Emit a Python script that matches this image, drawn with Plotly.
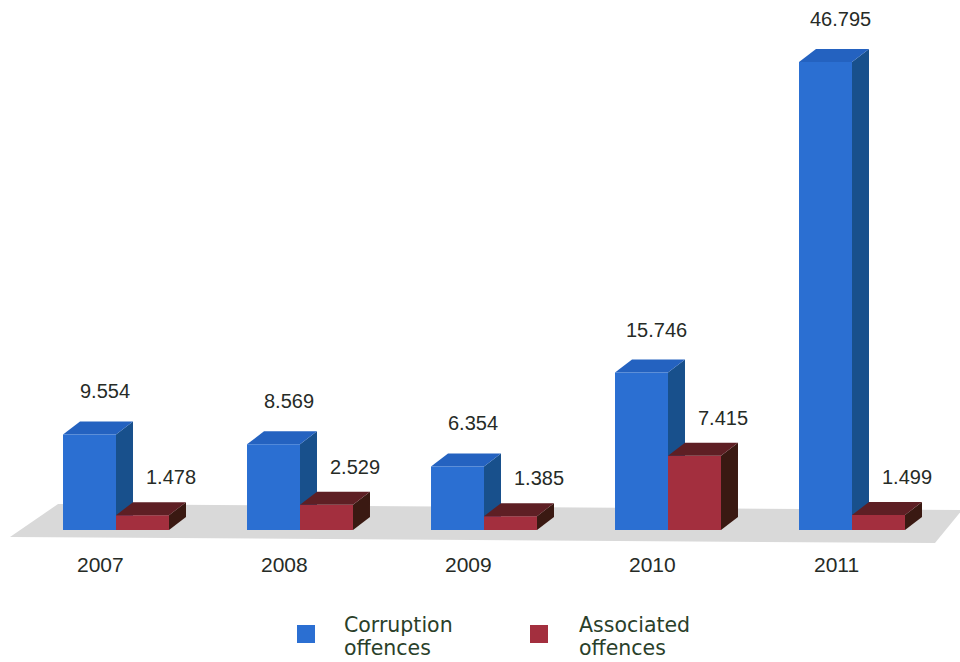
import plotly.graph_objects as go

# Data
years = ["2007", "2008", "2009", "2010", "2011"]
corruption = [9.554, 8.569, 6.354, 15.746, 46.795]
associated = [1.478, 2.529, 1.385, 7.415, 1.499]
series_lines = [("Corruption", "offences"), ("Associated", "offences")]

# Styling / geometry (axis units)
W = 0.288          # front-face width of a bar
DX = 17 / 184      # horizontal depth of the 3D extrusion
DY = 1.3           # vertical depth of the 3D extrusion
BLUE = dict(front="#2b6fd2", top="#2462c0", side="#18508c")
RED = dict(front="#a32f3e", top="#5e1f24", side="#3a1912")
TEXT = "#262b26"
idx = list(range(len(years)))


def fmt(v):
    return f"{v:.3f}"


fig = go.Figure()

fig.add_trace(go.Bar(x=idx, y=corruption, width=W, offset=-W,
                     marker=dict(color=BLUE["front"], line=dict(width=0)),
                     name="Corruption offences", hoverinfo="y"))
fig.add_trace(go.Bar(x=idx, y=associated, width=W, offset=0,
                     marker=dict(color=RED["front"], line=dict(width=0)),
                     name="Associated offences", hoverinfo="y"))

shapes = []


def path(pts):
    return "M " + " L ".join(f"{x},{y}" for x, y in pts) + " Z"


# Floor plane
shapes.append(dict(type="path", xref="x", yref="y", layer="below",
                   path=path([(-0.576, -0.7), (-0.315, 2.6), (4.598, 2.0), (4.451, -1.3)]),
                   fillcolor="#d9d9d9", line=dict(width=0)))


def box_faces(xl, xr, v, colors, layer):
    side = path([(xr, 0), (xr + DX, DY), (xr + DX, v + DY), (xr, v)])
    top = path([(xl, v), (xl + DX, v + DY), (xr + DX, v + DY), (xr, v)])
    return [
        dict(type="path", xref="x", yref="y", layer=layer, path=side,
             fillcolor=colors["side"], line=dict(width=0)),
        dict(type="path", xref="x", yref="y", layer=layer, path=top,
             fillcolor=colors["top"], line=dict(width=0)),
    ]


for i, v in zip(idx, corruption):
    shapes += box_faces(i - W, i, v, BLUE, "below")
for i, v in zip(idx, associated):
    shapes += box_faces(i, i + W, v, RED, "above")

num_font = dict(family="Liberation Sans, Arial", size=20, color=TEXT)
annotations = []
for i, v in zip(idx, corruption):
    annotations.append(dict(x=i - W / 2, y=v, text=fmt(v), showarrow=False,
                            xshift=15, yshift=43, yanchor="middle", font=num_font))
for i, v in zip(idx, associated):
    annotations.append(dict(x=i + W / 2, y=v, text=fmt(v), showarrow=False,
                            xshift=28, yshift=38, yanchor="middle", font=num_font))
for i, yr in zip(idx, years):
    annotations.append(dict(x=i, y=0, text=yr, showarrow=False,
                            xshift=-16, yshift=-34, yanchor="middle",
                            font=dict(family="Liberation Sans, Arial", size=21, color=TEXT)))

# Legend
legend_items = [(297, 343, BLUE["front"], series_lines[0]),
                (530, 578, RED["front"], series_lines[1])]
leg_font = dict(family="DejaVu Sans", size=20.5, color="#2a3f2a")
for sq_x, tx_x, col, (line1, line2) in legend_items:
    shapes.append(dict(type="rect", xref="paper", yref="paper",
                       x0=sq_x / 960, x1=(sq_x + 18) / 960,
                       y0=1 - 643 / 662, y1=1 - 625 / 662,
                       fillcolor=col, line=dict(width=0)))
    annotations.append(dict(xref="paper", yref="paper", x=tx_x / 960, y=1 - 625 / 662,
                            xanchor="left", yanchor="middle", text=line1, borderpad=0,
                            showarrow=False, font=leg_font))
    annotations.append(dict(xref="paper", yref="paper", x=tx_x / 960, y=1 - 648 / 662,
                            xanchor="left", yanchor="middle", text=line2, borderpad=0,
                            showarrow=False, font=leg_font))

fig.update_layout(
    width=960, height=662, autosize=False,
    margin=dict(l=0, r=0, t=0, b=0),
    paper_bgcolor="white", plot_bgcolor="white",
    showlegend=False,
    barmode="overlay",
    xaxis=dict(range=[-116 / 184, -116 / 184 + 960 / 184], visible=False, fixedrange=True),
    yaxis=dict(range=[-13.2, 53.0], visible=False, fixedrange=True),
    shapes=shapes, annotations=annotations,
)

fig.write_html("out.html")
